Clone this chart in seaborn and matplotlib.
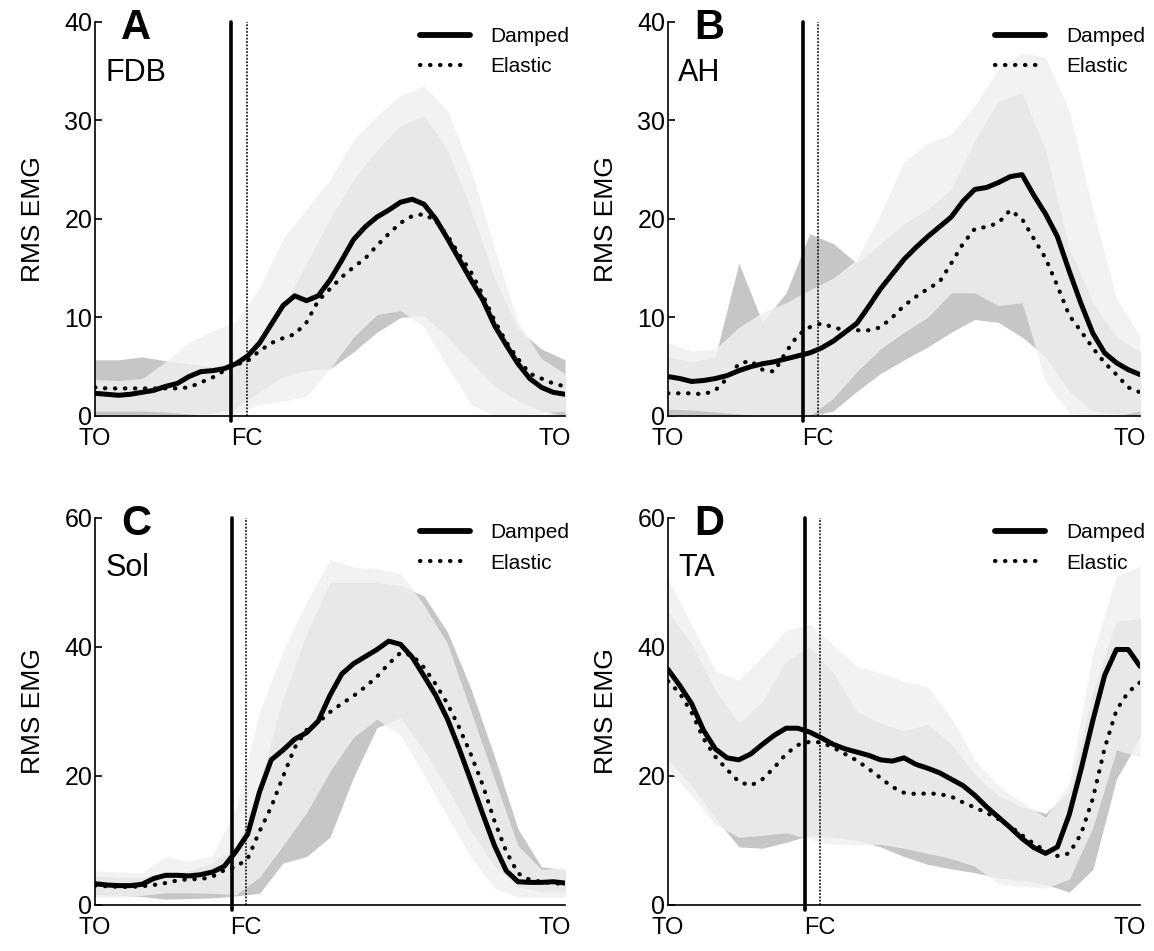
"""
RMS EMG over the stride (toe-off to toe-off) for four muscles,
damped vs elastic condition, mean curves with SD bands.
"""
import numpy as np
import pandas as pd
import matplotlib
matplotlib.use("Agg")
import matplotlib.pyplot as plt
import seaborn as sns
from matplotlib.lines import Line2D

# Stride position (% of stride) for the mean curves and for the SD bands
PCT_MEAN = [0, 2.5, 5, 7.5, 10, 12.5, 15, 17.5, 20, 22.5,
            25, 27.5, 30, 32.5, 35, 37.5, 40, 42.5, 45, 47.5,
            50, 52.5, 55, 57.5, 60, 62.5, 65, 67.5, 70, 72.5,
            75, 77.5, 80, 82.5, 85, 87.5, 90, 92.5, 95, 97.5, 100]
PCT_BAND = [0, 5, 10, 15, 20, 25, 30, 35, 40, 45, 50,
            55, 60, 65, 70, 75, 80, 85, 90, 95, 100]

# ---- A: FDB ----
FDB_DAMPED = [2.3, 2.2, 2.1, 2.2, 2.4, 2.6, 3.0, 3.3, 4.0, 4.5,
              4.6, 4.8, 5.3, 6.1, 7.4, 9.3, 11.2, 12.2, 11.7, 12.2,
              13.8, 15.8, 17.9, 19.2, 20.2, 20.9, 21.7, 22.0, 21.5, 20.0,
              18.0, 15.9, 13.8, 11.8, 9.2, 7.2, 5.3, 3.8, 2.9, 2.4, 2.2]
FDB_ELASTIC = [2.9, 2.8, 2.8, 2.8, 2.8, 2.8, 2.8, 2.8, 2.9, 3.4,
               3.9, 4.6, 5.2, 5.6, 6.6, 7.4, 7.9, 8.3, 9.5, 11.7,
               12.9, 14.1, 15.1, 16.0, 17.3, 18.5, 19.6, 20.3, 20.5, 19.8,
               18.3, 16.4, 14.6, 12.3, 9.7, 7.5, 5.8, 4.3, 3.8, 3.3, 3.0]
FDB_DAMPED_LO = [0.5, 0.5, 0.5, 0.4, 0.2, 0, 0.3, 1.2, 1.5, 2.0, 4.8,
                 8.0, 10.3, 10.7, 9.0, 5.0, 1.2, 0, 0, 0.3, 0.5]
FDB_DAMPED_HI = [3.7, 3.6, 3.8, 5.5, 7.5, 8.6, 9.6, 13.0, 18.0, 21.0, 24.0,
                 28.0, 30.5, 32.5, 33.5, 31.0, 25.0, 17.0, 9.5, 5.8, 4.3]
FDB_ELASTIC_LO = [0, 0, 0, 0, 0, 0.3, 0.8, 2.5, 4.0, 4.6, 4.8,
                  6.5, 8.5, 10.0, 10.2, 8.0, 5.5, 3.0, 1.5, 0.5, 0]
FDB_ELASTIC_HI = [5.7, 5.7, 6.0, 5.6, 5.3, 5.0, 5.5, 8.0, 11.0, 15.5, 20.0,
                  24.0, 27.0, 29.5, 30.5, 27.0, 21.0, 14.0, 8.8, 6.8, 5.7]

# ---- B: AH ----
AH_DAMPED = [4.0, 3.8, 3.5, 3.6, 3.8, 4.1, 4.6, 5.0, 5.3, 5.5,
             5.8, 6.1, 6.4, 6.9, 7.6, 8.5, 9.4, 11.1, 12.9, 14.4,
             15.9, 17.1, 18.2, 19.2, 20.2, 21.8, 23.0, 23.2, 23.7, 24.3,
             24.5, 22.4, 20.5, 18.2, 14.7, 11.4, 8.4, 6.4, 5.4, 4.7, 4.2]
AH_ELASTIC = [2.3, 2.3, 2.3, 2.2, 2.6, 3.8, 5.3, 5.6, 4.7, 4.5,
              6.5, 8.2, 9.0, 9.4, 9.0, 8.7, 8.7, 8.7, 9.0, 10.0,
              11.2, 12.1, 12.9, 13.6, 15.5, 17.5, 19.0, 19.2, 19.6, 20.9,
              20.0, 18.0, 16.0, 13.2, 10.2, 8.6, 6.9, 5.4, 4.2, 2.9, 2.4]
AH_DAMPED_LO = [0.7, 0.6, 0.4, 0.2, 0, 0, 0, 1.8, 4.5, 6.8, 8.5,
                10.0, 12.5, 12.5, 11.2, 11.5, 3.5, 0.3, 0, 0, 0.5]
AH_DAMPED_HI = [7.4, 6.6, 6.8, 9.0, 10.5, 11.5, 12.8, 14.0, 15.9, 20.5, 25.8,
                27.7, 28.6, 31.5, 35.2, 36.9, 36.4, 31.0, 21.0, 12.0, 8.1]
AH_ELASTIC_LO = [0, 0, 0, 0, 0, 0, 0, 0.5, 2.5, 4.3, 5.7,
                 7.0, 8.5, 9.8, 9.5, 8.0, 6.0, 2.5, 0.5, 0.2, 0]
AH_ELASTIC_HI = [6.0, 5.5, 6.0, 15.5, 9.5, 12.5, 18.5, 17.5, 15.5, 17.5, 19.5,
                 21.0, 23.0, 28.0, 32.0, 32.8, 27.0, 17.0, 11.5, 8.0, 6.5]

# ---- C: Sol ----
SOL_DAMPED = [3.3, 3.1, 3.0, 3.0, 3.2, 4.1, 4.6, 4.6, 4.5, 4.7,
              5.1, 6.0, 8.3, 11.0, 17.5, 22.5, 24.0, 25.7, 26.7, 28.5,
              32.5, 35.8, 37.4, 38.5, 39.6, 40.9, 40.4, 38.4, 35.5, 32.5,
              28.8, 24.2, 19.2, 14.1, 9.2, 5.3, 3.6, 3.5, 3.5, 3.6, 3.4]
SOL_ELASTIC = [3.0, 2.9, 2.8, 2.8, 2.9, 3.1, 3.4, 3.8, 4.0, 4.0,
               4.4, 5.4, 5.9, 7.2, 11.4, 15.2, 19.9, 24.4, 27.1, 28.3,
               29.9, 31.2, 32.4, 33.8, 35.4, 37.4, 39.1, 38.7, 36.8, 34.2,
               31.2, 27.5, 23.3, 18.6, 13.0, 8.3, 4.9, 3.9, 3.6, 3.4, 3.2]
SOL_DAMPED_LO = [1.2, 1.2, 1.5, 1.9, 1.9, 1.8, 1.6, 4.3, 9.2, 14.3, 20.7,
                 26.0, 28.8, 26.3, 20.2, 13.7, 7.4, 2.6, 1.2, 1.2, 1.2]
SOL_DAMPED_HI = [5.3, 5.1, 5.0, 7.5, 6.8, 7.6, 15.0, 29.9, 39.3, 47.0, 53.5,
                 52.4, 52.1, 51.4, 46.5, 40.5, 30.0, 19.5, 9.2, 5.5, 5.8]
SOL_ELASTIC_LO = [1.6, 1.5, 1.3, 0.9, 1.0, 1.1, 1.4, 1.8, 6.5, 7.5, 10.5,
                  19.8, 27.5, 29.0, 24.0, 18.0, 11.5, 6.0, 2.8, 2.0, 2.0]
SOL_ELASTIC_HI = [4.5, 4.3, 4.3, 5.0, 5.3, 6.5, 9.0, 19.0, 32.0, 42.0, 50.0,
                  50.0, 50.0, 49.5, 47.9, 42.3, 33.5, 23.0, 11.8, 5.9, 5.5]

# ---- D: TA ----
TA_DAMPED = [36.5, 34.0, 31.2, 27.1, 24.2, 22.8, 22.5, 23.4, 24.9, 26.3,
             27.4, 27.4, 26.8, 25.9, 24.9, 24.2, 23.7, 23.2, 22.5, 22.3,
             22.8, 21.8, 21.2, 20.5, 19.5, 18.5, 17.0, 15.2, 13.6, 12.0,
             10.3, 8.9, 8.0, 9.0, 14.0, 21.0, 28.6, 35.6, 39.6, 39.6, 37.0]
TA_ELASTIC = [34.7, 32.8, 29.8, 25.8, 23.0, 21.0, 19.1, 18.5, 19.5, 21.3,
              23.4, 24.8, 25.3, 25.2, 24.4, 23.4, 22.4, 21.1, 19.7, 18.3,
              17.4, 17.2, 17.3, 17.2, 16.8, 15.9, 15.1, 14.3, 13.3, 12.2,
              10.8, 9.5, 8.4, 7.6, 8.0, 11.0, 16.5, 24.3, 30.2, 33.0, 34.5]
TA_DAMPED_LO = [21.0, 17.0, 12.5, 10.5, 10.8, 11.2, 10.2, 9.4, 9.3, 9.4, 8.8,
                8.0, 7.2, 6.0, 3.3, 2.9, 2.6, 4.0, 12.0, 24.0, 23.0]
TA_DAMPED_HI = [50.5, 43.5, 36.3, 34.8, 38.5, 42.6, 43.5, 40.3, 37.0, 36.0, 34.7,
                33.8, 29.0, 22.5, 18.5, 15.9, 13.6, 19.0, 39.0, 51.0, 52.5]
TA_ELASTIC_LO = [22.5, 18.5, 13.5, 9.0, 8.8, 9.7, 10.8, 10.5, 10.0, 9.0, 7.5,
                 6.3, 5.6, 5.0, 4.2, 3.8, 3.2, 2.0, 5.5, 19.5, 26.0]
TA_ELASTIC_HI = [45.4, 40.5, 33.3, 28.2, 31.5, 37.8, 40.0, 36.0, 30.0, 28.2, 27.0,
                 28.0, 25.0, 20.2, 17.0, 15.2, 14.2, 17.5, 33.0, 44.0, 44.4]

# foot contact (% stride) for damped (solid) and elastic (dotted)
FC_DAMPED = [29.0, 28.6, 29.1, 29.1]
FC_ELASTIC = [32.3, 31.7, 32.1, 32.2]

LETTERS = ["A", "B", "C", "D"]
MUSCLES = ["FDB", "AH", "Sol", "TA"]
X_LABELS = ["TO", "FC", "TO"]
Y_MAX = [40, 40, 60, 60]
Y_STEP = [10, 10, 20, 20]

ELASTIC_BAND = "#c6c6c6"
DAMPED_BAND = "#f0f0f0"
DOT = (0, (0.1, 2.3))

sns.set_style("ticks")
plt.rcParams["font.family"] = ["Liberation Sans", "DejaVu Sans"]
plt.rcParams.update({
    "text.color": "black",
    "axes.labelcolor": "black",
    "axes.edgecolor": "black",
    "xtick.color": "black",
    "ytick.color": "black",
})


def draw_panel(ax, i, damped, elastic, d_lo, d_hi, e_lo, e_hi):
    """One muscle: SD bands, mean curves, foot-contact lines, legend."""
    # elastic SD underneath, damped SD semi-transparent on top
    ax.fill_between(PCT_BAND, e_lo, e_hi, color=ELASTIC_BAND, lw=0, zorder=1)
    ax.fill_between(PCT_BAND, d_lo, d_hi, color=DAMPED_BAND, alpha=0.825,
                    lw=0, zorder=2)

    df = pd.DataFrame({"pct": PCT_MEAN, "Damped": damped, "Elastic": elastic})
    sns.lineplot(data=df, x="pct", y="Damped", ax=ax, color="black", lw=3.6,
                 errorbar=None, zorder=5)
    sns.lineplot(data=df, x="pct", y="Elastic", ax=ax, color="black", lw=3.0,
                 linestyle=DOT, dash_capstyle="round", errorbar=None, zorder=4)

    ymax = Y_MAX[i]
    ax.axvline(FC_DAMPED[i], ymin=-0.012, ymax=1, color="black", lw=2.6,
               clip_on=False, zorder=6)
    ax.axvline(FC_ELASTIC[i], color="black", lw=1.1, linestyle=(0, (1.2, 1.0)),
               zorder=6)

    ax.set_xlim(0, 100)
    ax.set_ylim(0, ymax)
    ax.set_yticks(np.arange(0, ymax + 1, Y_STEP[i]))
    # last label sits a little inside the axis end, as in the original
    ax.set_xticks([0, FC_ELASTIC[i], 97.8])
    ax.set_xticklabels(X_LABELS)
    ax.tick_params(axis="y", direction="in", length=5, width=1.2,
                   labelsize=18, pad=2)
    ax.tick_params(axis="x", length=0, labelsize=17, pad=9)
    ax.set_xlabel("")
    ax.set_ylabel("RMS EMG", fontsize=19, labelpad=14)
    for side in ["left", "bottom"]:
        ax.spines[side].set_linewidth(1.2)
    sns.despine(ax=ax)

    ax.text(0.087, 0.985, LETTERS[i], transform=ax.transAxes, fontsize=30,
            fontweight="bold", ha="center", va="center")
    ax.text(0.022, 0.87, MUSCLES[i], transform=ax.transAxes, fontsize=22,
            ha="left", va="center")

    handles = [Line2D([], [], color="black", lw=4.2, solid_capstyle="round"),
               Line2D([], [], color="black", lw=3.0, linestyle=DOT,
                      dash_capstyle="round")]
    ax.legend(handles, ["Damped", "Elastic"], loc="upper right",
              bbox_to_anchor=(1.05, 1.035), frameon=False, fontsize=15,
              handlelength=2.4, handletextpad=1.0, labelspacing=0.55)


def main():
    fig = plt.figure(figsize=(11.54, 9.51), dpi=100)
    rects = [[0.0823, 0.5626, 0.4073, 0.4143],
             [0.5789, 0.5626, 0.4090, 0.4143],
             [0.0823, 0.0484, 0.4073, 0.4070],
             [0.5789, 0.0484, 0.4090, 0.4070]]
    series = [
        (FDB_DAMPED, FDB_ELASTIC, FDB_DAMPED_LO, FDB_DAMPED_HI, FDB_ELASTIC_LO, FDB_ELASTIC_HI),
        (AH_DAMPED, AH_ELASTIC, AH_DAMPED_LO, AH_DAMPED_HI, AH_ELASTIC_LO, AH_ELASTIC_HI),
        (SOL_DAMPED, SOL_ELASTIC, SOL_DAMPED_LO, SOL_DAMPED_HI, SOL_ELASTIC_LO, SOL_ELASTIC_HI),
        (TA_DAMPED, TA_ELASTIC, TA_DAMPED_LO, TA_DAMPED_HI, TA_ELASTIC_LO, TA_ELASTIC_HI),
    ]
    for i, rect in enumerate(rects):
        ax = fig.add_axes(rect)
        draw_panel(ax, i, *series[i])

    fig.savefig("out.png", dpi=100)


if __name__ == "__main__":
    main()
